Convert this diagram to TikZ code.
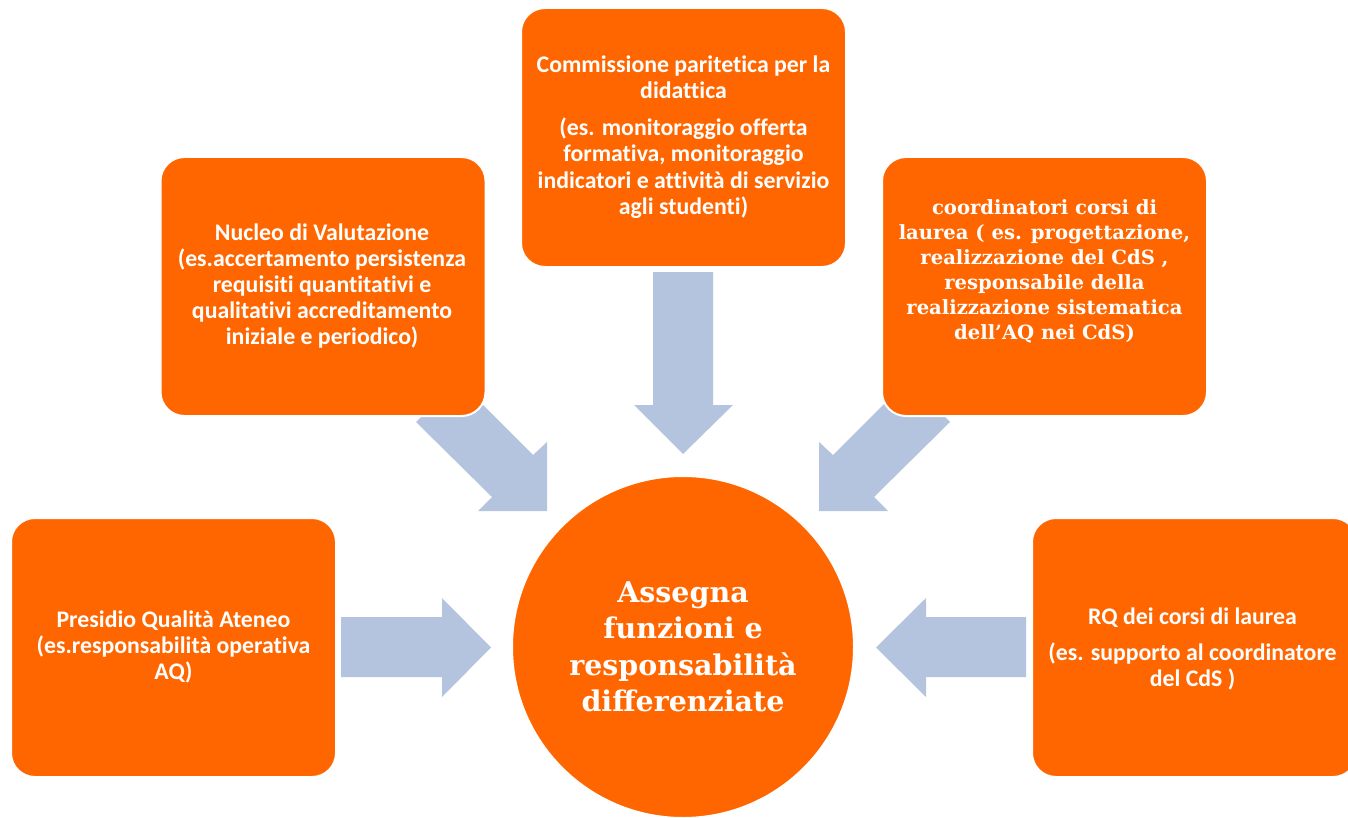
\documentclass[tikz,border=0pt]{standalone}
\usepackage{fontspec}
\setmainfont{Carlito}[Ligatures=NoCommon]
\newfontfamily\cambriafont{DejaVu Serif}
\definecolor{boxorange}{HTML}{FF6600}
\definecolor{arrowblue}{HTML}{B4C3DE}
\tikzset{
  card/.style={fill=boxorange, draw=white, line width=2pt, rounded corners=24pt,
    minimum width=325pt, minimum height=259pt, inner sep=0pt},
  cardtext/.style={text=white, font=\bfseries\fontsize{23.8}{26.2}\selectfont, align=center, inner sep=0pt},
  serifcardtext/.style={text=white, font=\cambriafont\bfseries\fontsize{19.6}{25}\selectfont, align=center, inner sep=0pt},
  hubtext/.style={text=white, font=\cambriafont\bfseries\fontsize{28.5}{36.5}\selectfont, align=center, inner sep=0pt},
  blockarrow/.style={fill=arrowblue, draw=none},
}
\begin{document}
\begin{tikzpicture}[x=1pt,y=-1pt]
\useasboundingbox (0,0) rectangle (1348,818);
% block arrows (drawn beneath the boxes)
\fill[blockarrow] (341,617) -- (442,617) -- (442,598) -- (491,647.5) -- (442,697) -- (442,677) -- (341,677) -- cycle;
\fill[blockarrow] (1026,617) -- (926,617) -- (926,598) -- (876,647.5) -- (926,697) -- (926,677) -- (1026,677) -- cycle;
\fill[blockarrow] (653,272) -- (713,272) -- (713,405) -- (733,405) -- (683,454) -- (634,405) -- (653,405) -- cycle;
\fill[blockarrow] (416,422) -- (458,380) -- (533,455) -- (547,442) -- (547,511) -- (478,511) -- (492,497) -- cycle;
\fill[blockarrow] (950,422) -- (908,380) -- (833,455) -- (819,442) -- (819,511) -- (888,511) -- (874,497) -- cycle;
% boxes
\node[card] (cpd) at (683.5,137.5) {};
\node[card] (ndv) at (323,286.5) {};
\node[card] (coord) at (1044.5,286.5) {};
\node[card] (pqa) at (173.5,647.5) {};
\node[card] (rq) at (1194.5,647.5) {};
\node[circle, fill=boxorange, draw=white, line width=2pt, minimum size=342pt, inner sep=0pt] (hub) at (683,647) {};
% texts
\node[cardtext] (cpdtext) at (683.5,137) {Commissione paritetica per la\\didattica\\[11pt](es. monitoraggio offerta\\formativa, monitoraggio\\indicatori e attività di servizio\\agli studenti)};
\node[cardtext] (ndvtext) at (322,286) {Nucleo di Valutazione\\(es.accertamento persistenza\\requisiti quantitativi e\\qualitativi accreditamento\\iniziale e periodico)};
\node[serifcardtext] (coordtext) at (1044.5,271) {coordinatori corsi di\\laurea ( es. progettazione,\\realizzazione del CdS ,\\responsabile della\\realizzazione sistematica\\dell’AQ nei CdS)};
\node[cardtext] (pqatext) at (173.5,647) {Presidio Qualità Ateneo\\(es.responsabilità operativa\\AQ)};
\node[cardtext] (rqtext) at (1192.5,649) {RQ dei corsi di laurea\\[10pt](es. supporto al coordinatore\\del CdS )};
\node[hubtext] (hubtxt) at (683,647) {Assegna\\funzioni e\\responsabilità\\differenziate};
\end{tikzpicture}
\end{document}
